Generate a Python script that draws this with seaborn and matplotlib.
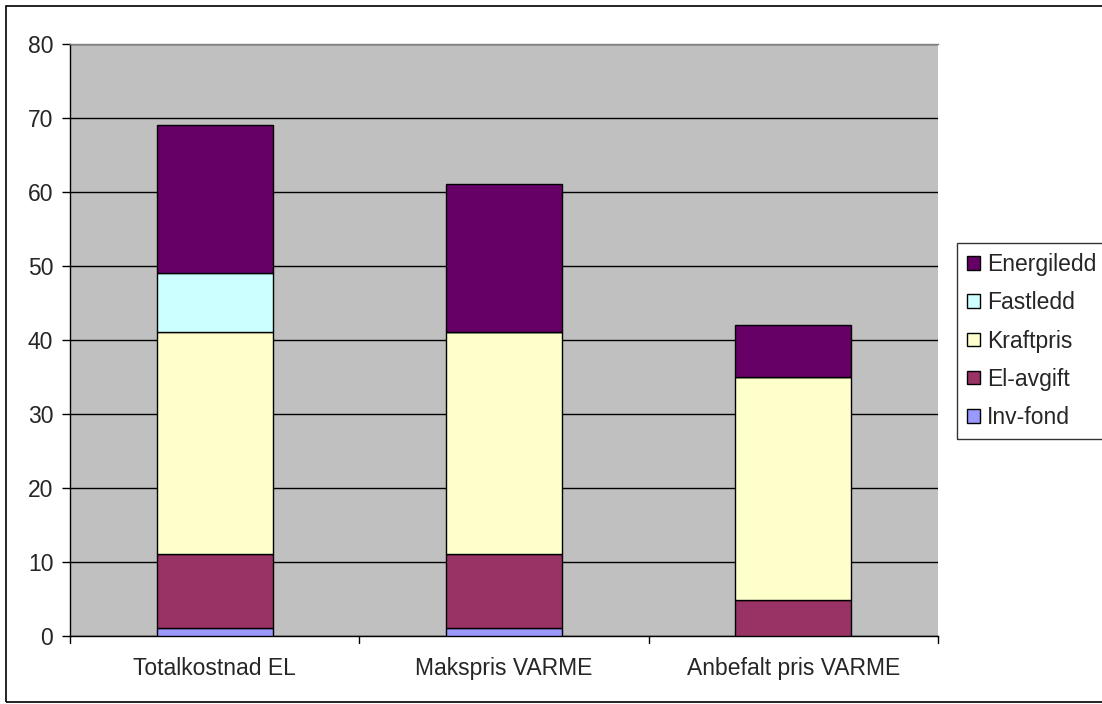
import matplotlib
matplotlib.use("Agg")
import matplotlib.pyplot as plt
import seaborn as sns
import pandas as pd
import numpy as np
from matplotlib.patches import Rectangle, Patch

categories = ["Totalkostnad EL", "Makspris VARME", "Anbefalt pris VARME"]
series_names = ["Inv-fond", "El-avgift", "Kraftpris", "Fastledd", "Energiledd"]
inv_fond = [1, 1, 0]
el_avgift = [10, 10, 4.8]
kraftpris = [30, 30, 30.2]
fastledd = [8, 0, 0]
energiledd = [20, 20, 7]
colors = ["#9999FF", "#993366", "#FFFFCC", "#CCFFFF", "#660066"]
yticks = [0, 10, 20, 30, 40, 50, 60, 70, 80]

sns.set_theme(style="white")
plt.rcParams["font.family"] = ["Liberation Sans", "DejaVu Sans"]

fig = plt.figure(figsize=(11.02, 7.04), dpi=100)
ax = fig.add_axes([70/1102, (704-635.7)/704, (938-70)/1102, (635.7-43.7)/704])
ax.set_facecolor("#C0C0C0")

values = [inv_fond, el_avgift, kraftpris, fastledd, energiledd]
bottom = np.zeros(len(categories))
for name, vals, col in zip(series_names, values, colors):
    df = pd.DataFrame({"cat": categories, "val": vals})
    sns.barplot(data=df, x="cat", y="val", color=col, bottom=bottom,
                width=0.4, edgecolor="black", linewidth=1.0, ax=ax,
                saturation=1, zorder=3)
    bottom = bottom + np.array(vals)

ax.set_ylim(0, 80)
ax.set_xlim(-0.5, 2.5)
ax.set_yticks(yticks)
ax.set_yticklabels([str(v) for v in yticks], fontsize=16.5)
ax.yaxis.grid(True, color="black", linewidth=1.0, zorder=1)
ax.set_axisbelow(True)
ax.set_xlabel("")
ax.set_ylabel("")
ax.set_xticks([0, 1, 2])
ax.set_xticklabels(categories, fontsize=16.5)
ax.tick_params(axis="x", length=0, pad=15)
ax.tick_params(axis="y", length=6, width=1, color="black", direction="out", pad=6, left=True)
for b in [-0.5, 0.5, 1.5, 2.5]:
    ax.plot([b, b], [0, -1.0], color="black", linewidth=1, clip_on=False, transform=ax.transData)
ax.spines["left"].set_color("black")
ax.spines["bottom"].set_color("black")
ax.spines["top"].set_color("#808080")
ax.spines["right"].set_visible(False)
for s in ["left", "bottom", "top"]:
    ax.spines[s].set_linewidth(1.0)

handles = [Patch(facecolor=c, edgecolor="black", linewidth=1, label=n)
           for n, c in zip(series_names, colors)][::-1]
leg = fig.legend(handles=handles, loc="upper left",
                 bbox_to_anchor=(957/1102, 1 - 243/704),
                 frameon=True, fancybox=False, fontsize=16.5,
                 handlelength=0.55, handleheight=0.55, handletextpad=0.3,
                 labelspacing=0.66, borderpad=0.45, borderaxespad=0)
leg.get_frame().set_edgecolor("black")
leg.get_frame().set_linewidth(1.0)

fig.patches.append(Rectangle((6/1102, 2/704), 1110/1102, 696/704,
                             transform=fig.transFigure, fill=False,
                             edgecolor="black", linewidth=1.2))

fig.savefig("out.png", dpi=100)
